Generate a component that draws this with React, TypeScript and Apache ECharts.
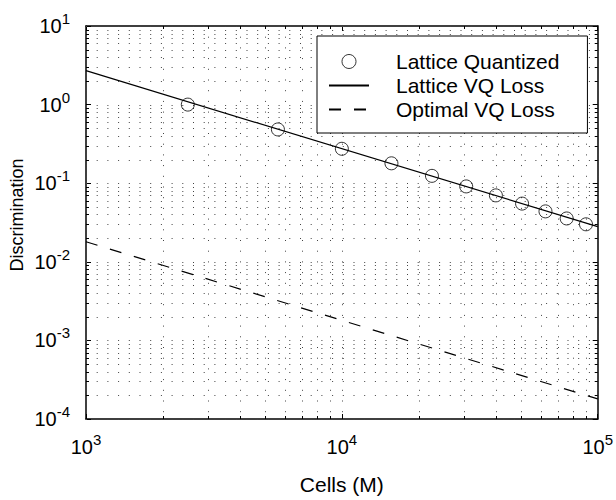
import React, { useEffect, useRef } from "react";
import * as echarts from "echarts";

// ---- data ----
const quantCells = [2500, 5625, 10000, 15625, 22500, 30625, 40000, 50625, 62500, 75625, 90000];
const latticeQuantized = [1.0, 0.483, 0.274, 0.179, 0.124, 0.091, 0.07, 0.055, 0.0438, 0.0356, 0.03];
const lineCells = [1000, 100000];
const latticeVQLoss = [2.7, 0.028];
const optimalVQLoss = [0.018, 0.00018];

// ---- axes ----
const X_MIN = 1000;
const X_MAX = 100000;
const Y_MIN = 0.0001;
const Y_MAX = 10;
const xDecades = [1000, 10000];
const yDecades = [0.0001, 0.001, 0.01, 0.1, 1];
const multipliers = [1, 2, 3, 4, 5, 6, 7, 8, 9];

const FONT = '"Liberation Sans", Arial, Helvetica, sans-serif';

const xGrid: number[] = [];
xDecades.forEach((d) => multipliers.forEach((m) => xGrid.push(d * m)));
xGrid.push(X_MAX);
const yGrid: number[] = [];
yDecades.forEach((d) => multipliers.forEach((m) => yGrid.push(d * m)));
yGrid.push(Y_MAX);

const isMajor = (v: number) => {
  const e = Math.log10(v);
  return Math.abs(e - Math.round(e)) < 1e-6;
};

const powLabel = (v: number) => `{b|10}{s|${Math.round(Math.log10(v))}}`;
const labelRich = {
  b: { fontSize: 20, lineHeight: 30, fontFamily: FONT, color: "#000" },
  s: { fontSize: 15, lineHeight: 10, verticalAlign: "top", fontFamily: FONT, color: "#000" },
};

const DOT = [1, 9.7];
const GRID_COLOR = "#444";

export default function App() {
  const ref = useRef<HTMLDivElement>(null);
  useEffect(() => {
    if (!ref.current) return;
    const chart = echarts.init(ref.current, undefined, { renderer: "svg" });
    const axisLine = { show: true, lineStyle: { color: "#000", width: 1.5 } };
    const tick = { show: true, inside: true, length: 5, lineStyle: { color: "#000", width: 1 } };
    const option: any = {
      animation: false,
      backgroundColor: "#fff",
      grid: { left: 86, right: 17, top: 26, bottom: 68, containLabel: false },
      xAxis: [
        {
          type: "log",
          logBase: 10,
          min: X_MIN,
          max: X_MAX,
          position: "bottom",
          axisLine,
          axisTick: tick,
          splitLine: { show: false },
          axisLabel: { margin: 13, formatter: powLabel, rich: labelRich },
          name: "Cells (M)",
          nameLocation: "middle",
          nameGap: 55,
          nameTextStyle: { fontSize: 21, fontFamily: FONT, color: "#000" },
        },
        {
          type: "log",
          logBase: 10,
          min: X_MIN,
          max: X_MAX,
          position: "top",
          axisLine,
          axisTick: tick,
          splitLine: { show: false },
          axisLabel: { show: false },
        },
      ],
      yAxis: [
        {
          type: "log",
          logBase: 10,
          min: Y_MIN,
          max: Y_MAX,
          position: "left",
          axisLine,
          axisTick: tick,
          splitLine: { show: false },
          axisLabel: { margin: 16, formatter: powLabel, rich: labelRich },
        },
        {
          type: "log",
          logBase: 10,
          min: Y_MIN,
          max: Y_MAX,
          position: "right",
          axisLine,
          axisTick: tick,
          splitLine: { show: false },
          axisLabel: { show: false },
        },
      ],
      legend: {
        orient: "vertical",
        left: 317,
        top: 36,
        data: [
          {
            name: "Lattice Quantized",
            itemStyle: { color: "rgba(0,0,0,0)", borderColor: "#000", borderWidth: 1 },
          },
          { name: "Lattice VQ Loss", itemStyle: { opacity: 0 } },
          { name: "Optimal VQ Loss", itemStyle: { opacity: 0 } },
        ],
        backgroundColor: "#fff",
        borderColor: "#000",
        borderWidth: 1,
        borderRadius: 0,
        padding: [15, 28, 13, 11],
        itemWidth: 40,
        itemHeight: 14,
        itemGap: 3,
        textStyle: { fontSize: 21, fontFamily: FONT, color: "#000", padding: [0, 0, 0, 22] },
      },
      graphic: [
        {
          type: "text",
          x: 16.7,
          y: 215,
          rotation: Math.PI / 2,
          style: {
            text: "Discrimination",
            fontSize: 18,
            fontFamily: FONT,
            fill: "#000",
            textAlign: "center",
            textVerticalAlign: "middle",
          },
        },
      ],
      series: [
        {
          type: "custom",
          name: "vgrid",
          silent: true,
          z: 1,
          data: xGrid.map((v) => [v, Y_MIN]),
          renderItem: (params: any, api: any) => {
            const cs = params.coordSys;
            const v = api.value(0);
            const x = Math.round(api.coord([v, Y_MIN])[0]) + 0.5;
            const top = cs.y;
            const bottom = cs.y + cs.height;
            const children: any[] = [
              {
                type: "line",
                shape: { x1: x, y1: top, x2: x, y2: bottom },
                style: { stroke: GRID_COLOR, lineWidth: 1, lineDash: DOT },
              },
            ];
            if (!isMajor(v)) {
              children.push(
                { type: "line", shape: { x1: x, y1: bottom, x2: x, y2: bottom - 3 }, style: { stroke: "#000", lineWidth: 1 } },
                { type: "line", shape: { x1: x, y1: top, x2: x, y2: top + 3 }, style: { stroke: "#000", lineWidth: 1 } }
              );
            }
            return { type: "group", children };
          },
        },
        {
          type: "custom",
          name: "hgrid",
          silent: true,
          z: 1,
          data: yGrid.map((v) => [X_MIN, v]),
          renderItem: (params: any, api: any) => {
            const cs = params.coordSys;
            const v = api.value(1);
            const y = Math.round(api.coord([X_MIN, v])[1]) + 0.5;
            const left = cs.x;
            const right = cs.x + cs.width;
            const children: any[] = [
              {
                type: "line",
                shape: { x1: left, y1: y, x2: right, y2: y },
                style: { stroke: GRID_COLOR, lineWidth: 1, lineDash: DOT },
              },
            ];
            if (!isMajor(v)) {
              children.push(
                { type: "line", shape: { x1: left, y1: y, x2: left + 3, y2: y }, style: { stroke: "#000", lineWidth: 1 } },
                { type: "line", shape: { x1: right, y1: y, x2: right - 3, y2: y }, style: { stroke: "#000", lineWidth: 1 } }
              );
            }
            return { type: "group", children };
          },
        },
        {
          type: "scatter",
          name: "Lattice Quantized",
          z: 3,
          symbol: "circle",
          symbolSize: 13,
          itemStyle: { color: "rgba(0,0,0,0)", borderColor: "#000", borderWidth: 1 },
          data: quantCells.map((c, i) => [c, latticeQuantized[i]]),
        },
        {
          type: "line",
          name: "Lattice VQ Loss",
          z: 4,
          symbol: "none",
          lineStyle: { color: "#000", width: 1.2, type: "solid" },
          itemStyle: { color: "rgba(0,0,0,0)" },
          data: lineCells.map((c, i) => [c, latticeVQLoss[i]]),
        },
        {
          type: "line",
          name: "Optimal VQ Loss",
          z: 4,
          symbol: "none",
          lineStyle: { color: "#000", width: 1.2, type: [12, 13] },
          itemStyle: { color: "rgba(0,0,0,0)" },
          data: lineCells.map((c, i) => [c, optimalVQLoss[i]]),
        },
      ],
    };
    chart.setOption(option);
    return () => chart.dispose();
  }, []);
  return (
    <div
      ref={ref}
      style={{ position: "absolute", left: 0, top: 0, width: 616, height: 500 }}
    />
  );
}
